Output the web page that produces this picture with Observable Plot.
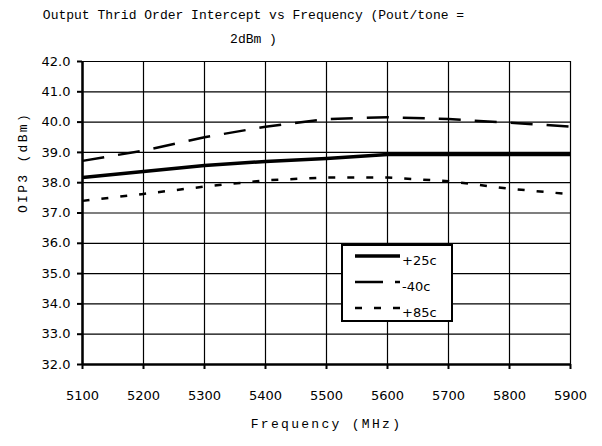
<!DOCTYPE html>
<html>
<head>
<meta charset="utf-8">
<script src="https://cdn.jsdelivr.net/npm/d3@7"></script>
<script src="https://cdn.jsdelivr.net/npm/@observablehq/plot@0.6"></script>
<style>
  body { margin: 0; background: #fff; }
  #wrap { position: relative; width: 602px; height: 446px; }
  #legend { position: absolute; left: 341px; top: 244px; width: 108px; height: 74px;
    border: 2px solid #000; background: #fff; }
</style>
</head>
<body>
<div id="wrap"></div>
<script>
const freqs = [5100, 5200, 5300, 5400, 5500, 5600, 5700, 5800, 5900];
const p25 = [38.17, 38.37, 38.57, 38.7, 38.8, 38.93, 38.93, 38.93, 38.93];
const m40 = [38.72, 39.06, 39.5, 39.85, 40.1, 40.16, 40.1, 39.98, 39.85];
const p85 = [37.4, 37.63, 37.87, 38.08, 38.17, 38.17, 38.05, 37.8, 37.62];
const seriesNames = ["+25c", "-40c", "+85c"];
const yTicks = [32, 33, 34, 35, 36, 37, 38, 39, 40, 41, 42];
const titleLines = ["Output Thrid Order Intercept vs Frequency (Pout/tone =", "2dBm )"];
const xLabel = "Frequency (MHz)";
const yLabel = "OIP3 (dBm)";

const styles = {
  "+25c": {strokeWidth: 3.5, dash: null},
  "-40c": {strokeWidth: 2.5, dash: "22,14"},
  "+85c": {strokeWidth: 2.5, dash: "7,12"}
};
const allVals = [p25, m40, p85];
const rows = [];
seriesNames.forEach((s, i) => freqs.forEach((f, j) => rows.push({series: s, f, v: allVals[i][j]})));

const serifFont = "'Liberation Mono', monospace";
const sansFont = "'DejaVu Sans', sans-serif";

const plot = Plot.plot({
  width: 602,
  height: 446,
  marginLeft: 82,
  marginRight: 32,
  marginTop: 61,
  marginBottom: 82,
  style: {fontFamily: sansFont, fontSize: "13px", background: "#fff", color: "#000"},
  x: {domain: [5100, 5900]},
  y: {domain: [32, 42]},
  marks: [
    Plot.gridX(freqs, {stroke: "#000", strokeOpacity: 1, strokeWidth: 1.2}),
    Plot.gridY(yTicks, {stroke: "#000", strokeOpacity: 1, strokeWidth: 1.2}),
    Plot.axisY(yTicks, {tickSize: 5, tickPadding: 7, label: null, strokeWidth: 2, fontSize: 13, fontFamily: sansFont, tickFormat: d => d.toFixed(1)}),
    Plot.axisX(freqs, {tickSize: 5, tickPadding: 21, label: null, strokeWidth: 2, fontSize: 13, fontFamily: sansFont, tickFormat: d => String(d)}),
    Plot.ruleX([5100], {stroke: "#000", strokeWidth: 2.5}),
    Plot.ruleY([32], {stroke: "#000", strokeWidth: 2.5}),
    ...seriesNames.map(s => Plot.line(rows.filter(r => r.series === s), {
      x: "f", y: "v", stroke: "#000", strokeWidth: styles[s].strokeWidth,
      strokeDasharray: styles[s].dash, strokeLinecap: "butt"
    })),
    Plot.text([titleLines[0]], {frameAnchor: "top-left", dx: 171, dy: -52, text: d => d, fontFamily: serifFont, fontSize: 13, textAnchor: "middle"}),
    Plot.text([titleLines[1]], {frameAnchor: "top-left", dx: 171, dy: -28, text: d => d, fontFamily: serifFont, fontSize: 13, textAnchor: "middle"}),
    Plot.text([xLabel], {frameAnchor: "bottom", dy: 63, text: d => d, fontFamily: serifFont, fontSize: 13}),
    Plot.text([yLabel], {frameAnchor: "left", dx: -60, text: d => d, rotate: -90, fontFamily: serifFont, fontSize: 13})
  ]
});
document.getElementById("wrap").appendChild(plot);
plot.querySelectorAll("text").forEach(t => {
  if (t.textContent === xLabel || t.textContent === yLabel) t.setAttribute("letter-spacing", "2.3");
});

// legend
const legend = document.createElement("div");
legend.id = "legend";
const ns = "http://www.w3.org/2000/svg";
const svg = document.createElementNS(ns, "svg");
svg.setAttribute("width", 108);
svg.setAttribute("height", 74);
svg.style.display = "block";
seriesNames.forEach((s, i) => {
  const y = 10 + i * 26;
  const ln = document.createElementNS(ns, "line");
  ln.setAttribute("x1", 12); ln.setAttribute("x2", 57);
  ln.setAttribute("y1", y); ln.setAttribute("y2", y);
  ln.setAttribute("stroke", "#000");
  ln.setAttribute("stroke-width", styles[s].strokeWidth);
  if (styles[s].dash) ln.setAttribute("stroke-dasharray", s === "-40c" ? "28,12" : "7,12");
  svg.appendChild(ln);
  const t = document.createElementNS(ns, "text");
  t.setAttribute("x", 59); t.setAttribute("y", y + 9);
  t.setAttribute("font-family", "DejaVu Sans, sans-serif");
  t.setAttribute("font-size", 13);
  t.textContent = s;
  svg.appendChild(t);
});
legend.appendChild(svg);
document.getElementById("wrap").appendChild(legend);
</script>
</body>
</html>
